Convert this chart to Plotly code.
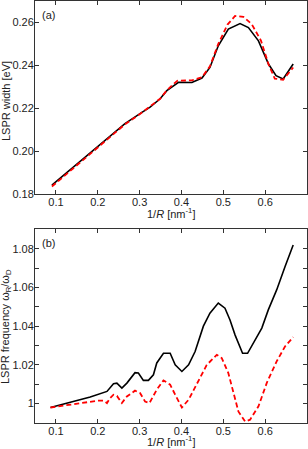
import plotly.graph_objects as go

# ---- panel (a): LSPR width ----
xa_black = [0.0904, 0.15, 0.2, 0.24, 0.265, 0.30, 0.325, 0.349, 0.365, 0.393, 0.425, 0.449,
            0.468, 0.488, 0.512, 0.54, 0.56, 0.584, 0.608, 0.626, 0.643, 0.667]
ya_black = [0.1841, 0.1938, 0.2019, 0.2084, 0.2128, 0.2174, 0.2205, 0.2244, 0.2282, 0.2321, 0.232, 0.2341,
            0.239, 0.2491, 0.2569, 0.2595, 0.2576, 0.2514, 0.2406, 0.2352, 0.2336, 0.2406]
xa_red = [0.0904, 0.15, 0.2, 0.265, 0.30, 0.349, 0.365, 0.39, 0.425, 0.449, 0.468, 0.488,
          0.51, 0.528, 0.548, 0.568, 0.59, 0.608, 0.623, 0.643, 0.667]
ya_red = [0.1835, 0.1933, 0.2016, 0.2125, 0.2172, 0.2244, 0.2284, 0.2328, 0.233, 0.2345, 0.2395, 0.25,
          0.259, 0.263, 0.2626, 0.2592, 0.2515, 0.2405, 0.2338, 0.2333, 0.239]

# ---- panel (b): LSPR frequency ----
xb_black = [0.087, 0.182, 0.222, 0.2376, 0.2457, 0.2576, 0.2696, 0.289, 0.297, 0.309, 0.321, 0.333,
            0.341, 0.357, 0.373, 0.385, 0.401, 0.417, 0.4326, 0.4524, 0.468, 0.488, 0.504, 0.516,
            0.528, 0.536, 0.546, 0.558, 0.572, 0.592, 0.6075, 0.6275, 0.6474, 0.667]
yb_black = [0.998, 1.0034, 1.0063, 1.0103, 1.0106, 1.008, 1.0106, 1.016, 1.0158, 1.012, 1.012, 1.0149,
            1.021, 1.026, 1.026, 1.020, 1.0166, 1.020, 1.0269, 1.040, 1.0467, 1.0519, 1.0493, 1.0432,
            1.0355, 1.031, 1.026, 1.026, 1.0312, 1.039, 1.0484, 1.0587, 1.0707, 1.0819]
xb_red = [0.087, 0.2, 0.215, 0.222, 0.2297, 0.2376, 0.2457, 0.2576, 0.2696, 0.289, 0.301, 0.313,
          0.3235, 0.341, 0.357, 0.373, 0.385, 0.401, 0.417, 0.437, 0.4605, 0.4844, 0.4963, 0.512,
          0.524, 0.536, 0.552, 0.564, 0.584, 0.6037, 0.6275, 0.6474, 0.667]
yb_red = [0.998, 1.0015, 1.0015, 1.0003, 1.0029, 1.0046, 1.004, 1.0003, 1.0037, 1.0067, 1.0055, 1.0011,
          1.0003, 1.0072, 1.012, 1.0098, 1.0046, 0.998, 1.002, 1.0106, 1.020, 1.0252, 1.0235, 1.0158,
          1.0055, 0.996, 0.9908, 0.9917, 0.9986, 1.0106, 1.0218, 1.0295, 1.0343]

x_ticks = [0.1, 0.2, 0.3, 0.4, 0.5, 0.6]
x_ticktext = ["0.1", "0.2", "0.3", "0.4", "0.5", "0.6"]
ya_ticks = [0.18, 0.20, 0.22, 0.24, 0.26]
ya_ticktext = ["0.18", "0.20", "0.22", "0.24", "0.26"]
yb_ticks = [1.00, 1.01, 1.02, 1.03, 1.04, 1.05, 1.06, 1.07, 1.08]
yb_ticktext = ["1", "", "1.02", "", "1.04", "", "1.06", "", "1.08"]

FONT = "Liberation Sans, Arial, sans-serif"
TXT = "#222222"
black_line = dict(color="#000000", width=1.6)
red_line = dict(color="#ff0000", width=1.8, dash="5px,3px")

fig = go.Figure()
fig.add_trace(go.Scatter(x=xa_black, y=ya_black, mode="lines", line=black_line, xaxis="x", yaxis="y"))
fig.add_trace(go.Scatter(x=xa_red, y=ya_red, mode="lines", line=red_line, xaxis="x", yaxis="y"))
fig.add_trace(go.Scatter(x=xb_black, y=yb_black, mode="lines", line=black_line, xaxis="x2", yaxis="y2"))
fig.add_trace(go.Scatter(x=xb_red, y=yb_red, mode="lines", line=red_line, xaxis="x2", yaxis="y2"))

axis_common = dict(showgrid=False, zeroline=False, showline=True, linecolor="#333333", linewidth=1,
                   mirror="ticks", ticks="inside", ticklen=4, tickwidth=1, tickcolor="#333333",
                   automargin=False, tickfont=dict(family=FONT, size=11, color=TXT))
xax = dict(axis_common, ticklabelstandoff=-2)
yax = dict(axis_common, ticklabelstandoff=-2)

M_L, M_R, M_T, M_B = 35, 1, 1, 26
H, W = 449, 308
PH = H - M_T - M_B
PW = W - M_L - M_R


def px_to_paper_y(py):
    return (H - M_B - py) / PH


def px_to_paper_x(px):
    return (px - M_L) / PW


title_font = dict(family=FONT, size=11, color=TXT)

fig.update_layout(
    width=W, height=H, autosize=False,
    margin=dict(l=M_L, r=M_R, t=M_T, b=M_B, autoexpand=False),
    paper_bgcolor="white", plot_bgcolor="white",
    showlegend=False,
    xaxis=dict(xax, domain=[0, 1], range=[0.05, 0.7], tickvals=x_ticks, ticktext=x_ticktext, anchor="y"),
    yaxis=dict(yax, domain=[px_to_paper_y(194), 1], range=[0.18, 0.27], tickvals=ya_ticks,
               ticktext=ya_ticktext, anchor="x"),
    xaxis2=dict(xax, domain=[0, 1], range=[0.05, 0.7], tickvals=x_ticks, ticktext=x_ticktext, anchor="y2"),
    yaxis2=dict(yax, domain=[0, px_to_paper_y(229.3)], range=[0.99, 1.09], tickvals=yb_ticks,
                ticktext=yb_ticktext, anchor="x2"),
    annotations=[
        dict(text="(a)", xref="x domain", yref="y domain", x=0.02, y=0.97, xanchor="left", yanchor="top",
             showarrow=False, font=title_font),
        dict(text="(b)", xref="x2 domain", yref="y2 domain", x=0.02, y=0.97, xanchor="left", yanchor="top",
             showarrow=False, font=title_font),
        dict(text="1/<i>R</i> [nm<sup>-1</sup>]", xref="paper", yref="paper",
             x=px_to_paper_x(171), y=px_to_paper_y(213), xanchor="center", yanchor="middle",
             showarrow=False, font=title_font),
        dict(text="1/<i>R</i> [nm<sup>-1</sup>]", xref="paper", yref="paper",
             x=px_to_paper_x(171), y=px_to_paper_y(441), xanchor="center", yanchor="middle",
             showarrow=False, font=title_font),
        dict(text="LSPR width [eV]", xref="paper", yref="paper", textangle=-90,
             x=px_to_paper_x(6), y=px_to_paper_y(101), xanchor="center", yanchor="middle",
             showarrow=False, font=title_font),
        dict(text="LSPR frequency ω<sub>R</sub>/ω<sub>D</sub>", xref="paper", yref="paper", textangle=-90,
             x=px_to_paper_x(6), y=px_to_paper_y(327), xanchor="center", yanchor="middle",
             showarrow=False, font=title_font),
    ],
)

fig.write_html("out.html", config={"displayModeBar": False},
               post_script="document.body.style.margin='0px';document.body.style.overflow='hidden';")
